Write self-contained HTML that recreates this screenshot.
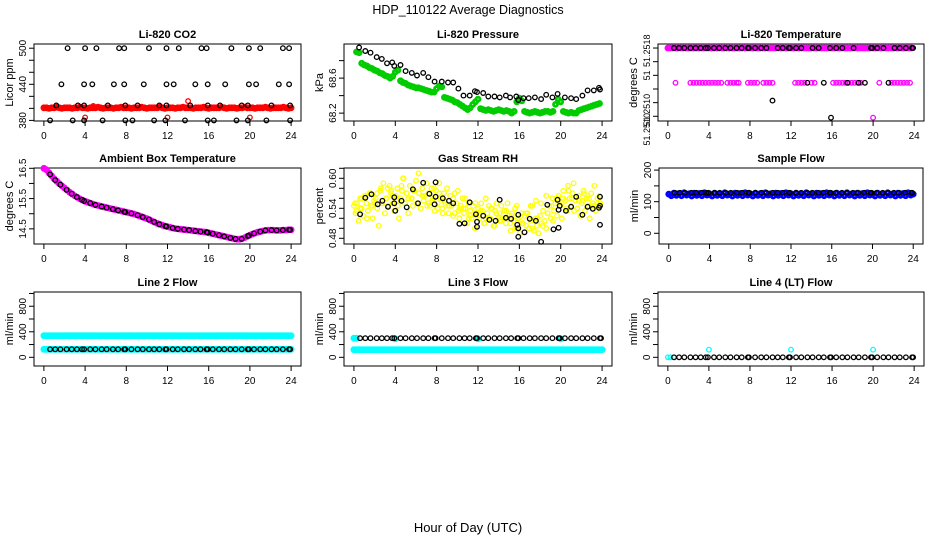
<!DOCTYPE html>
<html><head><meta charset="utf-8"><style>
html,body{margin:0;padding:0;background:#fff;}
svg{display:block;font-family:"Liberation Sans",sans-serif;}
</style></head><body>
<svg id="chart" width="936" height="540" viewBox="0 0 936 540" xmlns="http://www.w3.org/2000/svg">
<text x="468" y="14" font-size="12.5" text-anchor="middle">HDP_110122  Average Diagnostics</text>
<text x="468" y="532" font-size="13" text-anchor="middle">Hour of Day (UTC)</text>
</svg>
<script>
// ---------- data ----------
const xTicks = [0,4,8,12,16,20,24];
const blackHours = [0.6,1.1,1.6,2.2,2.7,3.2,3.7,3.9,4.5,5.0,5.6,6.1,6.7,7.2,7.8,7.9,8.5,9.1,9.6,10.2,10.7,11.2,11.8,11.9,12.5,13.0,13.6,14.1,14.7,15.2,15.8,15.9,16.4,17.0,17.5,18.1,18.6,19.2,19.8,19.9,20.4,21.0,21.5,22.1,22.6,23.2,23.8,23.9];
// CO2
const co2BlackHours = [2.3,4.0,5.1,7.3,7.8,10.2,11.9,13.1,15.3,15.8,18.2,19.9,21.0,23.2,23.8, 1.7,3.9,4.7,6.8,7.8,9.7,11.9,12.6,14.7,15.9,17.6,19.9,20.6,22.8,23.8, 1.2,3.3,3.9,6.2,7.9,9.1,11.2,11.9,14.2,15.9,17.1,19.2,19.8,22.1,23.9, 0.6,2.8,3.9,5.7,7.9,8.6,10.7,11.8,13.7,15.9,16.5,18.7,19.8,21.6,23.9];
const co2BlackVals = [500,500,500,500,500,500,500,500,500,500,500,500,500,500,500, 440,440,440,440,440,440,440,440,440,440,440,440,440,440,440, 405,405,405,405,405,405,405,405,405,405,405,405,405,405,405, 380,380,380,380,380,380,380,380,380,380,380,380,380,380,380];
const co2Red = [401,401,400,401,401,402,401,400,401,401,401,400,401,401,402,401,401,400,401,401,401,402,401,400,401,401,401,400,401,401,402,401,401,401,400,401,401,401,402,401,400,401,401,401,401,402,401,400,401,401,401,400,401,401,402,401,401,401,400,401,401,401,402,401,400,401,401,401,401,402,401,400,401,401,401,400,401,401,402,401,401,401,400,401,401,401,402,401,400,401,401,401,401,402,401,400,401];
const co2RedOutHours = [4.0,4.8,12.0,14.0,20.0];
const co2RedOutVals = [385,404,385,412,385];
// Pressure
const presBlackHours = [0.5,1.1,1.6,2.2,2.7,3.2,3.7,3.9,4.5,5.0,5.6,6.1,6.7,7.2,7.8,8.5,9.1,9.6,10.1,10.6,11.2,11.7,11.9,12.5,13.0,13.6,14.1,14.7,15.1,15.7,15.9,16.4,16.9,17.5,18.1,18.6,19.2,19.7,20.4,21.0,21.5,22.1,22.6,23.2,23.7,23.8];
const presBlackVals = [68.95,68.91,68.89,68.84,68.82,68.77,68.78,68.74,68.75,68.68,68.66,68.63,68.66,68.61,68.56,68.56,68.55,68.55,68.48,68.40,68.40,68.45,68.44,68.43,68.39,68.39,68.38,68.40,68.38,68.39,68.35,68.37,68.37,68.38,68.36,68.41,68.38,68.42,68.38,68.37,68.36,68.40,68.46,68.46,68.49,68.47];
const presGreen = [68.90,68.89,68.77,68.75,68.74,68.72,68.71,68.69,68.68,68.66,68.65,68.63,68.62,68.60,68.62,68.67,68.69,
68.57,68.55,68.54,68.52,68.51,68.50,68.49,68.49,68.48,68.47,68.46,68.45,68.44,68.44,68.48,68.51,68.50,
68.38,68.37,68.36,68.35,68.33,68.32,68.30,68.28,68.26,68.24,68.26,68.30,68.33,68.36,
68.25,68.24,68.23,68.24,68.23,68.22,68.23,68.24,68.23,68.22,68.23,68.22,68.20,68.22,68.33,68.37,68.34,
68.22,68.21,68.20,68.21,68.22,68.21,68.20,68.21,68.22,68.22,68.21,68.22,68.30,68.36,68.33,
68.22,68.21,68.20,68.21,68.20,68.20,68.23,68.24,68.25,68.26,68.27,68.28,68.29,68.30,68.31];
// Temperature
const tempMagentaTop = [51.2518,51.2518,51.2518,51.2518,51.2518,51.2518,51.2518,51.2518,51.2518,51.2518,51.2518,51.2518,51.2518,51.2518,51.2518,51.2518,51.2518,51.2518,51.2518,51.2518,51.2518,51.2518,51.2518,51.2518,51.2518,51.2518,51.2518,51.2518,51.2518,51.2518,51.2518,51.2518,51.2518,51.2518,51.2518,51.2518,51.2518,51.2518,51.2518,51.2518,51.2518,51.2518,51.2518,51.2518,51.2518,51.2518,51.2518,51.2518,51.2518,51.2518,51.2518,51.2518,51.2518,51.2518,51.2518,51.2518,51.2518,51.2518,51.2518,51.2518,51.2518,51.2518,51.2518,51.2518,51.2518,51.2518,51.2518,51.2518,51.2518,51.2518,51.2518,51.2518,51.2518,51.2518,51.2518,51.2518,51.2518,51.2518,51.2518,51.2518,51.2518,51.2518,51.2518,51.2518,51.2518,51.2518,51.2518,51.2518,51.2518,51.2518,51.2518,51.2518,51.2518,51.2518,51.2518,51.2518];
const tempMidHours = [0.75,2.2,2.5,2.8,3.1,3.4,3.7,4.0,4.3,4.6,4.9,5.2,5.8,6.1,6.4,6.7,6.9,7.8,8.1,8.4,8.7,9.3,9.6,9.9,10.2,12.4,12.7,13.0,13.3,14.0,14.3,16.1,16.4,16.7,17.0,17.3,17.6,17.9,18.2,18.5,18.8,20.6,21.8,22.1,22.4,22.7,23.0,23.3,23.6,20.0];
const tempMidVals = [51.25129,51.25129,51.25129,51.25129,51.25129,51.25129,51.25129,51.25129,51.25129,51.25129,51.25129,51.25129,51.25129,51.25129,51.25129,51.25129,51.25129,51.25129,51.25129,51.25129,51.25129,51.25129,51.25129,51.25129,51.25129,51.25129,51.25129,51.25129,51.25129,51.25129,51.25129,51.25129,51.25129,51.25129,51.25129,51.25129,51.25129,51.25129,51.25129,51.25129,51.25129,51.25129,51.25129,51.25129,51.25129,51.25129,51.25129,51.25129,51.25129,51.25078];
const tempBlackVals = [51.2518,51.2518,51.2518,51.2518,51.2518,51.2518,51.2518,51.2518,51.2518,51.2518,51.2518,51.2518,51.2518,51.2518,51.2518,51.2518,51.2518,51.2518,51.2518,51.25103,51.2518,51.2518,51.2518,51.2518,51.2518,51.2518,51.25129,51.2518,51.2518,51.25129,51.2518,51.25078,51.2518,51.2518,51.25129,51.2518,51.25129,51.25129,51.2518,51.2518,51.2518,51.2518,51.25129,51.2518,51.2518,51.2518,51.2518,51.2518];
// Ambient
const ambMagenta = [16.5,16.45,16.35,16.25,16.15,16.07,15.99,15.92,15.85,15.78,15.71,15.65,15.59,15.54,15.49,15.45,15.41,15.38,15.35,15.32,15.29,15.27,15.25,15.23,15.21,15.19,15.17,15.15,15.13,15.11,15.09,15.07,15.05,15.03,15.01,14.99,14.96,14.93,14.9,14.87,14.84,14.8,14.76,14.72,14.68,14.65,14.62,14.59,14.57,14.55,14.53,14.51,14.5,14.49,14.48,14.47,14.46,14.45,14.44,14.43,14.42,14.41,14.4,14.39,14.37,14.35,14.33,14.31,14.29,14.27,14.25,14.23,14.21,14.19,14.17,14.16,14.16,14.18,14.21,14.25,14.29,14.33,14.36,14.39,14.41,14.43,14.45,14.46,14.46,14.46,14.45,14.45,14.45,14.46,14.46,14.47,14.47];
const ambBlack = [16.3,16.11,15.96,15.79,15.66,15.55,15.46,15.42,15.35,15.29,15.24,15.2,15.15,15.11,15.07,15.05,15.01,14.95,14.89,14.81,14.73,14.65,14.59,14.58,14.53,14.5,14.48,14.46,14.43,14.41,14.39,14.38,14.34,14.29,14.25,14.2,14.17,14.17,14.26,14.28,14.35,14.41,14.45,14.46,14.45,14.46,14.47,14.47];
// RH
const rhYellow = [.545,.53,.55,.515,.56,.54,.525,.565,.55,.535,.57,.545,.52,.555,.56,.54,
.505,.575,.55,.59,.53,.56,.545,.585,.57,.55,.535,.565,.58,.52,.56,.575,
.60,.55,.57,.53,.585,.56,.545,.575,.595,.55,.57,.54,.58,.555,.565,.59,
.57,.545,.58,.56,.535,.575,.55,.59,.56,.54,.57,.55,.58,.53,.565,.545,
.56,.53,.55,.575,.52,.545,.56,.53,.54,.51,.55,.535,.52,.545,.5,.53,
.54,.52,.55,.535,.51,.56,.53,.545,.52,.54,.505,.535,.55,.52,.53,.545,
.52,.535,.51,.55,.525,.495,.53,.515,.54,.5,.52,.49,.53,.51,.525,.505,
.53,.5,.515,.545,.495,.52,.505,.49,.525,.51,.535,.515,.5,.53,.545,.52,
.56,.535,.55,.525,.565,.545,.52,.575,.555,.54,.585,.56,.545,.57,.535,.555,
.54,.565,.525,.55,.575,.535,.56,.545,.52,.57,.55,.585,.535,.56,.545,.55];
const rhYellow2 = [.535,.56,.52,.545,.57,.55,.58,.565,.545,.6,.56,.575,.61,.565,.55,.58,.57,.555,.545,.57,.54,.56,.525,.55,.535,.52,.54,.53,.515,.535,.525,.545,.51,.53,.5,.52,.505,.53,.515,.55,.56,.575,.59,.555,.57,.56,.545,.565];
const rhYellow3 = [.55,.54,.565,.57,.55,.58,.56,.575,.555,.585,.57,.56,.55,.565,.545,.555,.54,.53,.545,.525,.535,.54,.52,.53,.525,.51,.52,.505,.515,.52,.51,.5,.515,.53,.545,.555,.55,.565,.545,.56,.55,.535,.56,.54,.555,.565,.545,.55];
const rhBlackHours = [0.6,1.1,1.7,2.3,2.75,3.3,3.9,3.9,4.0,4.6,5.1,5.7,6.2,6.7,7.3,7.8,7.9,7.9,8.6,9.2,9.6,10.2,10.7,11.2,11.8,11.9,11.9,12.5,13.1,13.7,14.1,14.7,15.2,15.8,15.9,15.9,15.9,16.5,17.0,17.6,18.1,18.7,19.3,19.7,19.8,19.8,19.9,20.5,21.0,21.5,22.1,22.6,23.1,23.7,23.8,23.8,23.8];
const rhBlackVals = [.528,.561,.568,.548,.555,.543,.55,.562,.535,.555,.542,.578,.55,.591,.569,.548,.563,.592,.56,.555,.55,.509,.51,.552,.528,.513,.503,.525,.517,.515,.557,.521,.519,.507,.527,.5,.483,.492,.519,.515,.473,.547,.498,.557,.501,.537,.545,.535,.543,.563,.527,.543,.539,.541,.545,.563,.507];
// Sample flow
const sampleBlue = [124,119,127,120,126,119,128,121,125,118,127,120,126,119,128,121,125,118,127,120,126,119,128,121,125,118,127,120,126,119,128,121,125,118,127,120,126,119,128,121,125,118,127,120,126,119,128,121,125,118,127,120,126,119,128,121,125,118,127,120,126,119,128,121,125,118,127,120,126,119,128,121,125,118,127,120,126,119,128,121,125,118,127,120,126,119,128,121,125,118,127,120,126,119,128,121,124];
const sampleBlack = [128,128,128,128,128,128,128,128,128,128,128,128,128,128,128,128,128,128,128,128,128,128,128,128,128,128,128,128,128,128,128,128,128,128,128,128,128,128,128,128,128,128,128,128,128,128,128,128];
// Line flows
const l2CyanHi = [338,338,338,338,338,338,338,338,338,338,338,338,338,338,338,338,338,338,338,338,338,338,338,338,338,338,338,338,338,338,338,338,338,338,338,338,338,338,338,338,338,338,338,338,338,338,338,338,338,338,338,338,338,338,338,338,338,338,338,338,338,338,338,338,338,338,338,338,338,338,338,338,338,338,338,338,338,338,338,338,338,338,338,338,338,338,338,338,338,338,338,338,338,338,338,338,338];
const l2CyanLo = [125,125,125,125,125,125,125,125,125,125,125,125,125,125,125,125,125,125,125,125,125,125,125,125,125,125,125,125,125,125,125,125,125,125,125,125,125,125,125,125,125,125,125,125,125,125,125,125,125,125,125,125,125,125,125,125,125,125,125,125,125,125,125,125,125,125,125,125,125,125,125,125,125,125,125,125,125,125,125,125,125,125,125,125,125,125,125,125,125,125,125,125,125,125,125,125,125];
const l2Black = [125,125,125,125,125,125,125,125,125,125,125,125,125,125,125,125,125,125,125,125,125,125,125,125,125,125,125,125,125,125,125,125,125,125,125,125,125,125,125,125,125,125,125,125,125,125,125,125];
const l3CyanLo = [120,120,120,120,120,120,120,120,120,120,120,120,120,120,120,120,120,120,120,120,120,120,120,120,120,120,120,120,120,120,120,120,120,120,120,120,120,120,120,120,120,120,120,120,120,120,120,120,120,120,120,120,120,120,120,120,120,120,120,120,120,120,120,120,120,120,120,120,120,120,120,120,120,120,120,120,120,120,120,120,120,120,120,120,120,120,120,120,120,120,120,120,120,120,120,120,120];
const l3CyanHiHours = [0,0.25,4,12,20];
const l3CyanHiVals = [300,300,290,290,290];
const l3Black = [300,300,300,300,300,300,300,300,300,300,300,300,300,300,300,300,300,300,300,300,300,300,300,300,300,300,300,300,300,300,300,300,300,300,300,300,300,300,300,300,300,300,300,300,300,300,300,300];
const l4CyanHours = [0,0.25,4,12,20];
const l4CyanVals = [0,0,120,120,120];
const l4Black = [0,0,0,0,0,0,0,0,0,0,0,0,0,0,0,0,0,0,0,0,0,0,0,0,0,0,0,0,0,0,0,0,0,0,0,0,0,0,0,0,0,0,0,0,0,0,0,0];

// ---------- panels ----------
const NS = "http://www.w3.org/2000/svg";
const svg = document.getElementById("chart");
const XLIM = [-0.96, 24.96];
function mk(tag, attrs, parent){
  const e = document.createElementNS(NS, tag);
  for (const k in attrs) e.setAttribute(k, attrs[k]);
  (parent||svg).appendChild(e);
  return e;
}
function panel(p){
  const g = mk("g", {});
  
  
  p.g = g;
  p.x = v => p.left + (v - XLIM[0]) / (XLIM[1] - XLIM[0]) * p.w;
  p.y = v => p.top + p.h - (v - p.ylim[0]) / (p.ylim[1] - p.ylim[0]) * p.h;
  const t = mk("text", {x: p.left + p.w/2, y: p.top - 6, "font-size": 11, "font-weight": "bold", "text-anchor": "middle"}, g);
  t.textContent = p.title;
  
  
  const yl = mk("text", {x: 0, y: 0, "font-size": 11, "text-anchor": "middle", transform: `translate(${p.left-21},${p.top+p.h/2}) rotate(-90)`}, g);
  yl.textContent = p.ylab;
  
  
  const box = mk("rect", {x: p.left, y: p.top, width: p.w, height: p.h, fill: "none", stroke: "#000", "stroke-width": 1}, g);
  
  
  xTicks.forEach(v => {
    const xx = p.x(v);
    const tk = mk("line", {x1: xx, x2: xx, y1: p.top+p.h, y2: p.top+p.h+5, stroke: "#000"}, g);
    
    
    const tl = mk("text", {x: xx, y: p.top+p.h+18, "font-size": 10, "text-anchor": "middle"}, g);
    tl.textContent = v;
    
    
  });
  p.yticks.forEach(v => {
    const yy = p.y(v);
    const tk = mk("line", {x1: p.left-5, x2: p.left, y1: yy, y2: yy, stroke: "#000"}, g);
    
    
  });
  p.ylabels.forEach((lab, i) => {
    const yy = p.y(p.ylabelAt[i]);
    const tl = mk("text", {x: 0, y: 0, "font-size": p.ylabSize || 10, "text-anchor": "middle", transform: `translate(${p.left-8},${yy}) rotate(-90)`}, g);
    tl.textContent = lab;
    
    
  });
  return p;
}
function pts(p, xs, ys, color, nm, dense){
  const g = mk("g", {fill: "none", stroke: color, "stroke-width": dense ? 2.8 : 1.3}, p.g);
  
  
  for (let i = 0; i < ys.length; i++){
    const c = mk("circle", {cx: p.x(xs[i]).toFixed(1), cy: p.y(ys[i]).toFixed(1), r: dense ? 2.0 : 2.3}, g);
    
    
  }
}
function denseHours(arr){ return arr.map((_, i) => i * 0.25); }

const C1 = 34, C2 = 344, C3 = 658, W = 267;
const R1 = 44, R2 = 168, R3 = 292, H1 = 77, H2 = 76, H3 = 74;

const p1 = panel({name:"panel-co2", title:"Li-820 CO2", ylab:"Licor ppm", left:C1, top:R1, w:W, h:H1, ylim:[379,507], yticks:[380,400,420,440,460,480,500], ylabels:["380","440","500"], ylabelAt:[380,440,500]});
pts(p1, denseHours(co2Red), co2Red, "#ff0000", "co2-red-series", true);
pts(p1, co2RedOutHours, co2RedOutVals, "#ff0000", "co2-red-outliers");
pts(p1, co2BlackHours, co2BlackVals, "#000", "co2-black-series");

const p2 = panel({name:"panel-pressure", title:"Li-820 Pressure", ylab:"kPa", left:C2, top:R1, w:268, h:H1, ylim:[68.11,68.99], yticks:[68.2,68.4,68.6,68.8], ylabels:["68.2","68.6"], ylabelAt:[68.2,68.6]});
pts(p2, presGreen.map((_, i) => 0.25 + i*0.25), presGreen, "#00cc00", "pressure-green-series", true);
pts(p2, presBlackHours, presBlackVals, "#000", "pressure-black-series");

const p3 = panel({name:"panel-temperature", title:"Li-820 Temperature", ylab:"degrees C", left:C3, top:R1, w:266, h:H1, ylim:[51.250731,51.251859], yticks:[51.2508,51.251,51.2512,51.2514,51.2516,51.2518], ylabels:["51.2518","51","51.2510","51.2510"], ylabelAt:[51.25176,51.2514,51.25089,51.25061], ylabSize:9});
pts(p3, denseHours(tempMagentaTop), tempMagentaTop, "#ff00ff", "temp-magenta-top", true);
pts(p3, tempMidHours, tempMidVals, "#ff00ff", "temp-magenta-mid");
pts(p3, blackHours, tempBlackVals, "#000", "temp-black-series");

const p4 = panel({name:"panel-ambient", title:"Ambient Box Temperature", ylab:"degrees C", left:C1, top:R2, w:W, h:H2, ylim:[14.0,16.51], yticks:[14.5,15,15.5,16,16.5], ylabels:["14.5","15.5","16.5"], ylabelAt:[14.5,15.5,16.5]});
pts(p4, denseHours(ambMagenta), ambMagenta, "#ff00ff", "ambient-magenta-series", true);
pts(p4, blackHours, ambBlack, "#000", "ambient-black-series");

const p5 = panel({name:"panel-rh", title:"Gas Stream RH", ylab:"percent", left:C2, top:R2, w:268, h:H2, ylim:[0.4686,0.6206], yticks:[0.48,0.5,0.52,0.54,0.56,0.58,0.6,0.62], ylabels:["0.48","0.54","0.60"], ylabelAt:[0.48,0.54,0.6]});
pts(p5, rhYellow.map((_, i) => i*0.15), rhYellow, "#ffff00", "rh-yellow-series");
pts(p5, rhYellow2.map((_, i) => 0.25 + i*0.5), rhYellow2, "#ffff00", "rh-yellow-series-2");
pts(p5, rhYellow3.map((_, i) => 0.1 + i*0.5), rhYellow3, "#ffff00", "rh-yellow-series-3");
pts(p5, rhBlackHours, rhBlackVals, "#000", "rh-black-series");

const p6 = panel({name:"panel-sample-flow", title:"Sample Flow", ylab:"ml/min", left:659, top:R2, w:264, h:H2, ylim:[-33.9,206.6], yticks:[0,50,100,150,200], ylabels:["0","100","200"], ylabelAt:[0,100,200]});
pts(p6, denseHours(sampleBlue), sampleBlue, "#0000ff", "sample-blue-series", true);
pts(p6, blackHours, sampleBlack, "#000", "sample-black-series");

const flowTicks = [0,200,400,600,800,1000];
const p7 = panel({name:"panel-line2", title:"Line 2 Flow", ylab:"ml/min", left:C1, top:R3, w:W, h:H3, ylim:[-136,1023], yticks:flowTicks, ylabels:["0","400","800"], ylabelAt:[0,400,800]});
pts(p7, denseHours(l2CyanHi), l2CyanHi, "#00ffff", "line2-cyan-high", true);
pts(p7, denseHours(l2CyanLo), l2CyanLo, "#00ffff", "line2-cyan-low", true);
pts(p7, blackHours, l2Black, "#000", "line2-black-series");

const p8 = panel({name:"panel-line3", title:"Line 3 Flow", ylab:"ml/min", left:C2, top:R3, w:268, h:H3, ylim:[-136,1023], yticks:flowTicks, ylabels:["0","400","800"], ylabelAt:[0,400,800]});
pts(p8, denseHours(l3CyanLo), l3CyanLo, "#00ffff", "line3-cyan-low", true);
pts(p8, l3CyanHiHours, l3CyanHiVals, "#00ffff", "line3-cyan-high", true);
pts(p8, blackHours, l3Black, "#000", "line3-black-series");

const p9 = panel({name:"panel-line4", title:"Line 4 (LT) Flow", ylab:"ml/min", left:C3, top:R3, w:266, h:H3, ylim:[-136,1023], yticks:flowTicks, ylabels:["0","400","800"], ylabelAt:[0,400,800]});
pts(p9, l4CyanHours, l4CyanVals, "#00ffff", "line4-cyan-series");
pts(p9, blackHours, l4Black, "#000", "line4-black-series");
</script>
</body></html>
